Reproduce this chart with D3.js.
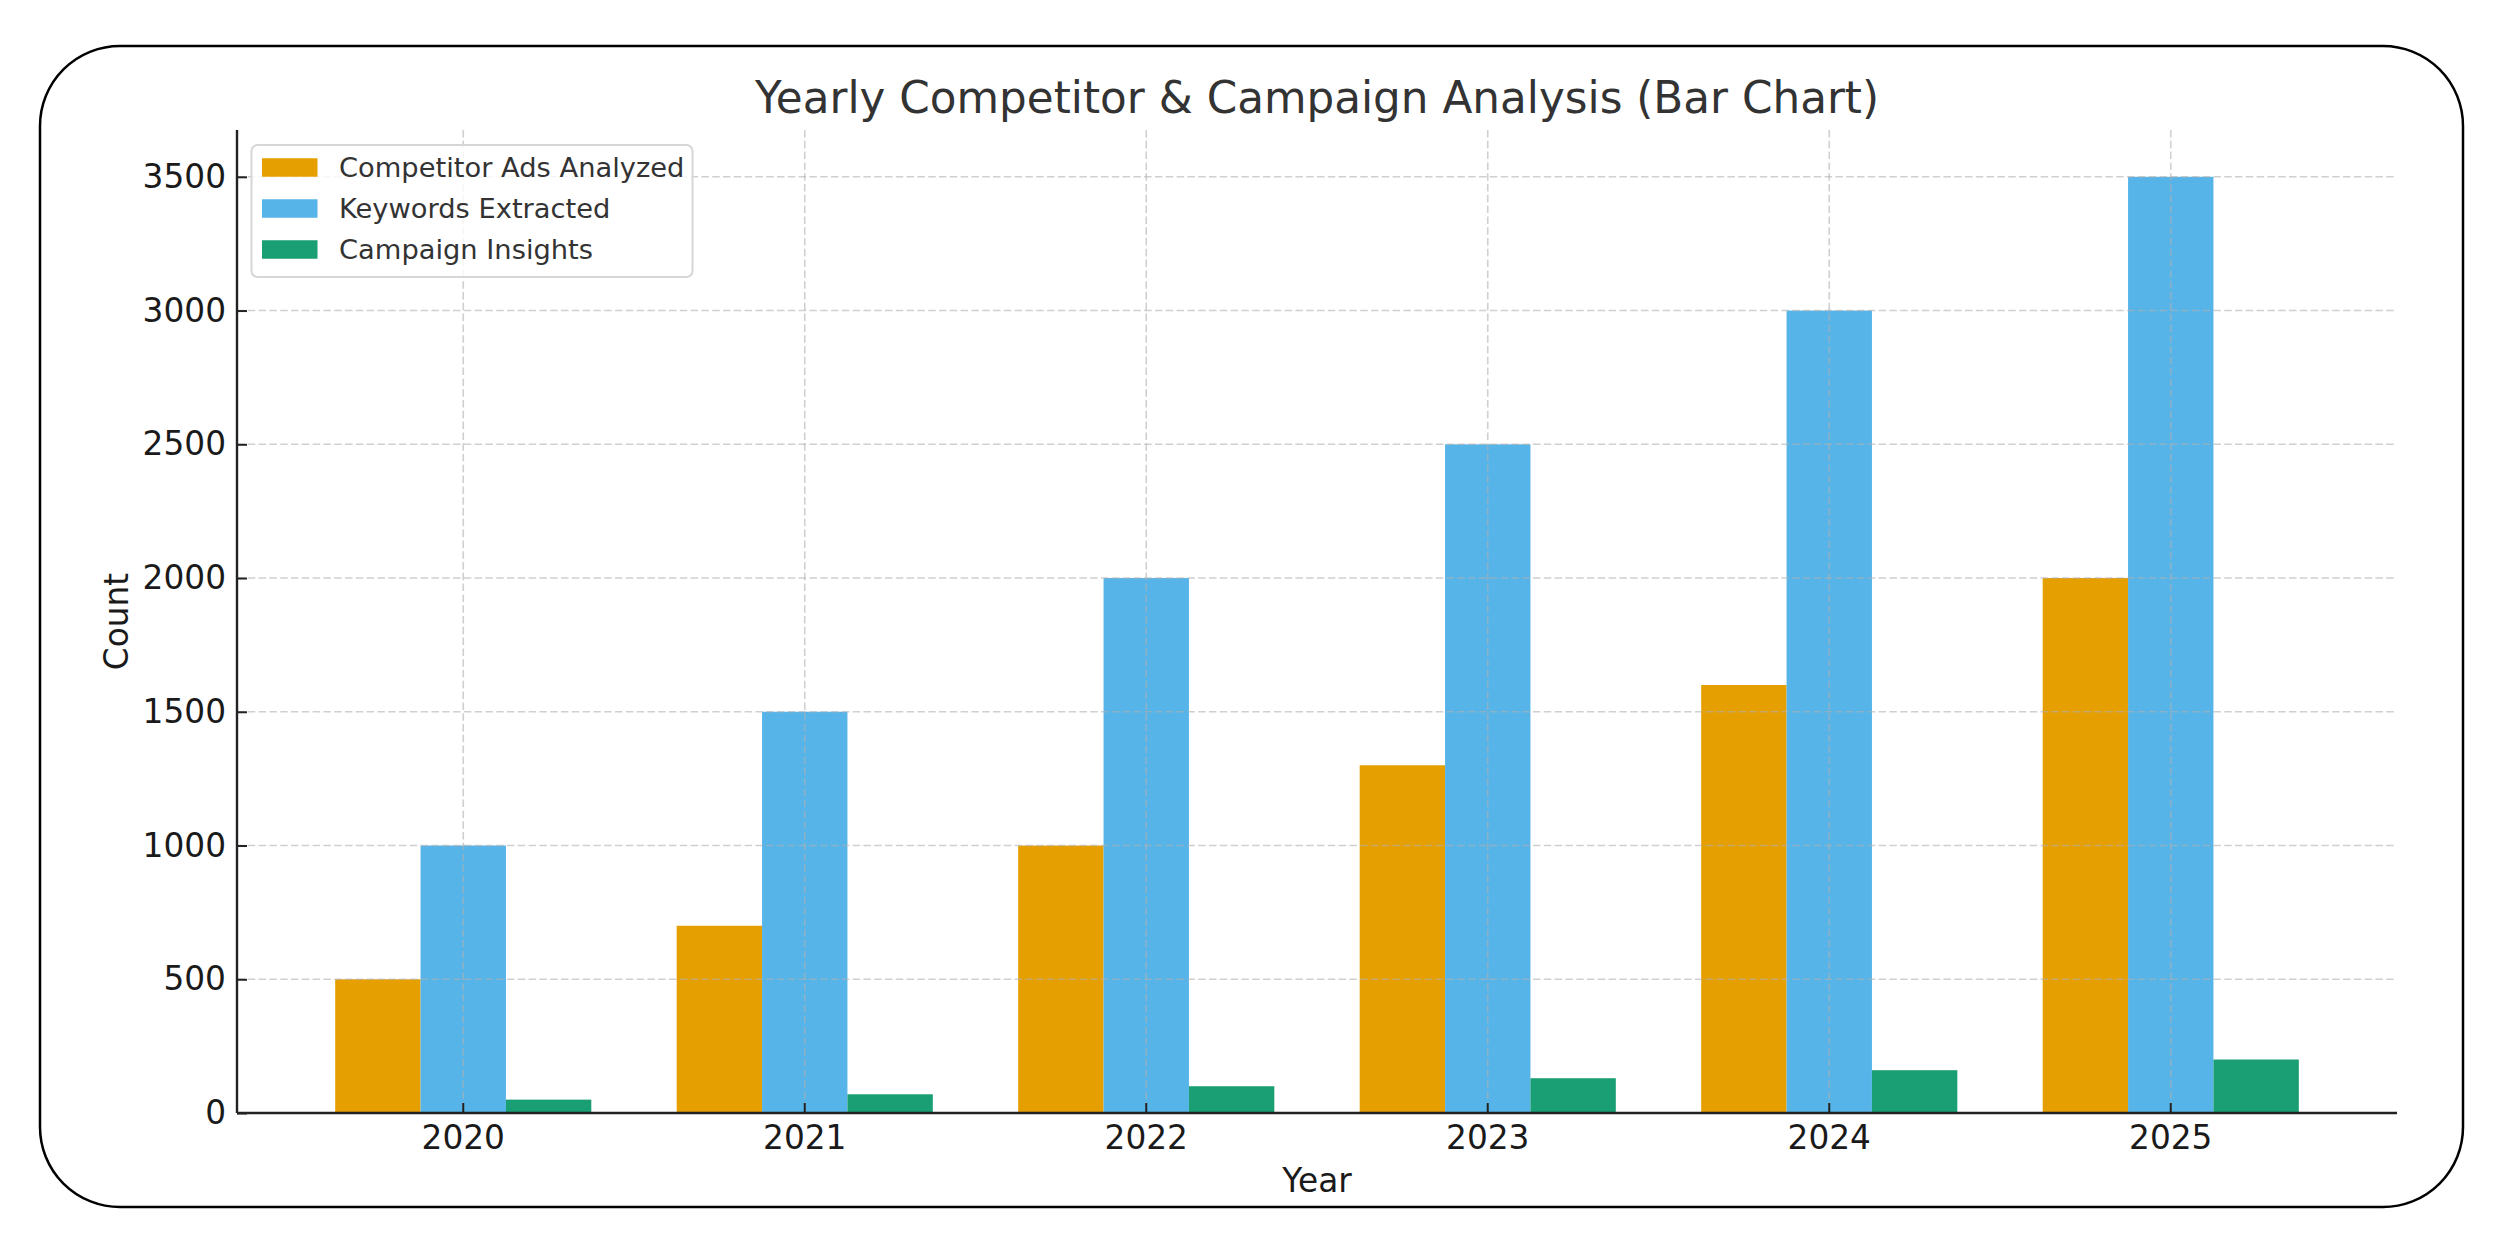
<!DOCTYPE html>
<html>
<head>
<meta charset="utf-8">
<script src="https://cdn.jsdelivr.net/npm/d3@7"></script>
<style>
  html, body { margin: 0; padding: 0; background: #ffffff; }
  svg { display: block; }
  text { font-family: "DejaVu Sans", sans-serif; }
</style>
</head>
<body>
<svg id="chart" width="2497" height="1240"></svg>
<script>
// ---- data ----
const years = ["2020", "2021", "2022", "2023", "2024", "2025"];
const seriesNames = ["Competitor Ads Analyzed", "Keywords Extracted", "Campaign Insights"];
const competitorAds = [500, 700, 1000, 1300, 1600, 2000];
const keywords = [1000, 1500, 2000, 2500, 3000, 3500];
const insights = [50, 70, 100, 130, 160, 200];
const seriesColors = ["#E69F00", "#56B4E9", "#1A9E73"];
const yTicks = [0, 500, 1000, 1500, 2000, 2500, 3000, 3500];
const titleText = "Yearly Competitor & Campaign Analysis (Bar Chart)";
const xLabel = "Year";
const yLabel = "Count";

const seriesValues = [competitorAds, keywords, insights];

const svg = d3.select("#chart");

// frame
svg.append("rect")
  .attr("x", 40).attr("y", 46)
  .attr("width", 2423).attr("height", 1161)
  .attr("rx", 80).attr("ry", 80)
  .attr("fill", "#ffffff")
  .attr("stroke", "#000000")
  .attr("stroke-width", 2.5);

const plot = { left: 237, right: 2397, top: 130, bottom: 1113 };

const x = d3.scaleBand()
  .domain(years)
  .range([plot.left, plot.right])
  .paddingInner(0.25)
  .paddingOuter(0.2875);

const xSub = d3.scaleBand()
  .domain(seriesNames)
  .range([0, x.bandwidth()]);

const y = d3.scaleLinear()
  .domain([0, 3675])
  .range([plot.bottom, plot.top]);

// bars
const groups = svg.append("g").selectAll("g")
  .data(years)
  .join("g")
  .attr("transform", d => `translate(${x(d)},0)`);

groups.selectAll("rect")
  .data((yr, i) => seriesNames.map((s, j) => ({ s, j, v: seriesValues[j][i] })))
  .join("rect")
  .attr("x", d => xSub(d.s))
  .attr("width", xSub.bandwidth())
  .attr("y", d => y(d.v))
  .attr("height", d => y(0) - y(d.v))
  .attr("fill", d => seriesColors[d.j]);

// grid (drawn over bars, translucent dashed)
const grid = svg.append("g")
  .attr("stroke", "#b0b0b0")
  .attr("stroke-opacity", 0.6)
  .attr("stroke-width", 1.6)
  .attr("stroke-dasharray", "7.5,3.3");

grid.selectAll("line.h")
  .data(yTicks)
  .join("line")
  .attr("class", "h")
  .attr("x1", plot.left).attr("x2", plot.right)
  .attr("y1", d => y(d)).attr("y2", d => y(d));

grid.selectAll("line.v")
  .data(years)
  .join("line")
  .attr("class", "v")
  .attr("x1", d => x(d) + x.bandwidth() / 2)
  .attr("x2", d => x(d) + x.bandwidth() / 2)
  .attr("y1", plot.top).attr("y2", plot.bottom);

// axes
const xAxis = d3.axisBottom(x).tickSize(-10).tickPadding(13).tickSizeOuter(0);
const yAxis = d3.axisLeft(y).tickValues(yTicks).tickSize(-10).tickPadding(11).tickSizeOuter(0).tickFormat(d3.format("d"));

const gx = svg.append("g")
  .attr("transform", `translate(0,${plot.bottom})`)
  .call(xAxis);
const gy = svg.append("g")
  .attr("transform", `translate(${plot.left},0)`)
  .call(yAxis);

[gx, gy].forEach(g => {
  g.select(".domain").attr("stroke", "#222").attr("stroke-width", 2.4);
  g.selectAll(".tick line").attr("stroke", "#222").attr("stroke-width", 2);
  g.selectAll(".tick text")
    .attr("fill", "#1a1a1a")
    .style("font-size", "32.8px")
    .style("font-family", "'DejaVu Sans', sans-serif");
});
gy.select(".domain").attr("d", `M0,${plot.top}V${plot.bottom}`);
gx.select(".domain").attr("d", `M${plot.left},0H${plot.right}`);

// title
svg.append("text")
  .attr("x", (plot.left + plot.right) / 2)
  .attr("y", 113)
  .attr("text-anchor", "middle")
  .attr("fill", "#333")
  .style("font-size", "43.7px")
  .text(titleText);

// axis labels
svg.append("text")
  .attr("x", (plot.left + plot.right) / 2)
  .attr("y", 1191.5)
  .attr("text-anchor", "middle")
  .attr("fill", "#1a1a1a")
  .style("font-size", "32.8px")
  .text(xLabel);

svg.append("text")
  .attr("transform", `translate(128,${(plot.top + plot.bottom) / 2}) rotate(-90)`)
  .attr("text-anchor", "middle")
  .attr("fill", "#1a1a1a")
  .style("font-size", "32.8px")
  .text(yLabel);

// legend
const legend = svg.append("g");
legend.append("rect")
  .attr("x", 251.5).attr("y", 145)
  .attr("width", 441).attr("height", 132)
  .attr("rx", 6).attr("ry", 6)
  .attr("fill", "#ffffff").attr("fill-opacity", 0.8)
  .attr("stroke", "#d6d6d6").attr("stroke-width", 2);

const items = legend.selectAll("g.item")
  .data(seriesNames)
  .join("g")
  .attr("class", "item")
  .attr("transform", (d, i) => `translate(262,${167.5 + i * 41})`);

items.append("rect")
  .attr("x", 0).attr("y", -9.25)
  .attr("width", 55.5).attr("height", 18.5)
  .attr("fill", (d, i) => seriesColors[i]);

items.append("text")
  .attr("x", 77)
  .attr("y", 0)
  .attr("dy", "0.36em")
  .attr("fill", "#333")
  .style("font-size", "27.3px")
  .text(d => d);
</script>
</body>
</html>
